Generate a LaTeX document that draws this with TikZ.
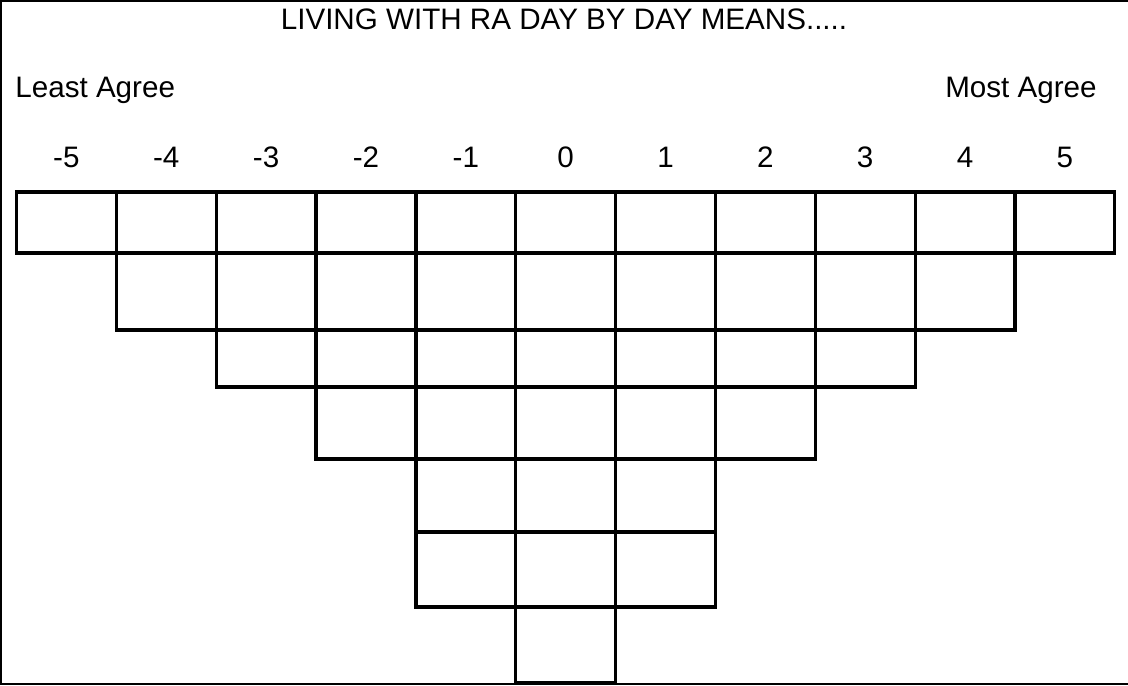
\documentclass[tikz,border=0pt]{standalone}
\usepackage{fontspec}
\setmainfont{Liberation Sans}
\usetikzlibrary{positioning}

\tikzset{
  lbl/.style={inner sep=0pt, anchor=base, font=\fontsize{14.8}{17}\selectfont},
  cell/.style={draw=black, line width=1.6pt}
}

\begin{document}
\begin{tikzpicture}[x=0.5pt, y=-0.5pt]
    \useasboundingbox (0,0) rectangle (1128,685);
    \draw[line width=1pt] (1128,1) -- (1,1) -- (1,684) -- (1128,684);
    \node[lbl] (title) at (564,29) {LIVING WITH RA DAY BY DAY MEANS.....};
    \node[lbl, anchor=base west] (least) at (15,97) {Least Agree};
    \node[lbl, anchor=base east] (most) at (1097,97) {Most Agree};
    \foreach \i/\l in {0/-5,1/-4,2/-3,3/-2,4/-1,5/0,6/1,7/2,8/3,9/4,10/5} {
        \node[lbl] (n\i) at (66.4+99.85*\i,167) {\l};
    }
    % rows of boxes: top, bottom, first and last column
    \foreach \t/\b/\a/\e in {192/253/0/10, 253/330/1/9, 330/387/2/8,
                             387/459/3/7, 459/532/4/6, 532/607/4/6, 607/683/5/5} {
        \foreach \c in {\a,...,\e} {
            \draw[cell] (16.5+99.85*\c,\t) rectangle (116.35+99.85*\c,\b);
        }
    }
\end{tikzpicture}
\end{document}
